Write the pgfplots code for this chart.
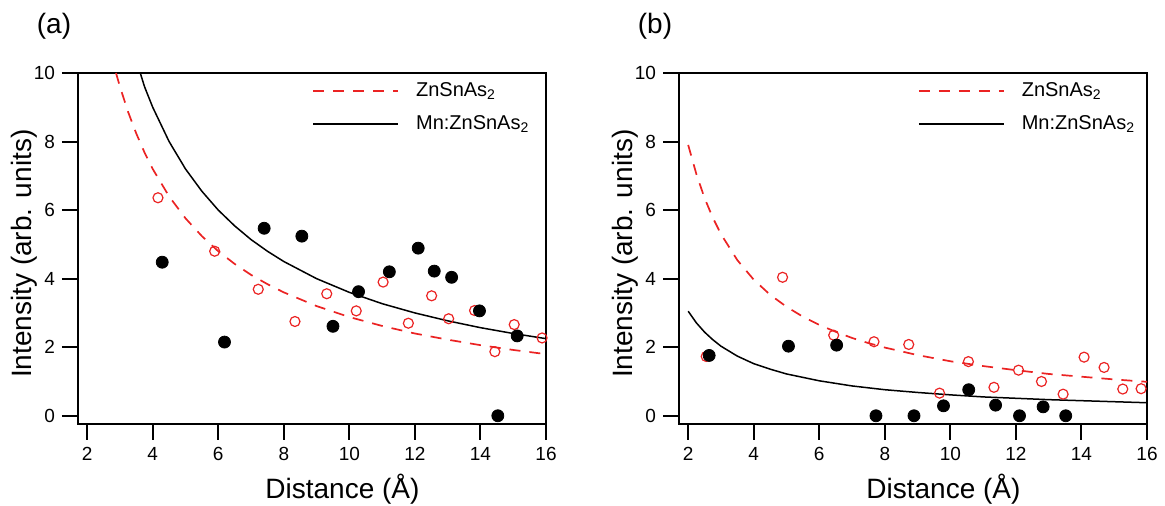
\documentclass[border=0pt]{standalone}
\usepackage{pgfplots}
\pgfplotsset{compat=1.18}
\usepackage{fontspec}
\setmainfont{Liberation Sans}
\definecolor{igred}{RGB}{235,35,35}

\pgfplotsset{
  panel/.style={
    scale only axis, width=234pt, height=175.5pt,
    xmin=1.72, xmax=16, ymin=-0.24, ymax=10,
    xtick={2,4,...,16}, ytick={0,2,...,10},
    tick pos=left, tick align=outside,
    major tick length=8pt,
    tick style={line width=1pt, black},
    axis line style={line width=1pt},
    ticklabel style={font=\fontsize{9.5}{11}\selectfont},
    /pgf/number format/assume math mode=true,
    xlabel={Distance (Å)}, ylabel={Intensity (arb. units)},
    label style={font=\fontsize{14}{16}\selectfont},
    xlabel style={at={(axis description cs:0.565,-0.2117)}, anchor=base},
    ylabel style={at={(axis description cs:-0.0996,0.485)}, anchor=base},
    clip mode=individual,
    legend style={at={(axis description cs:0.5,0.985)}, anchor=north west,
      draw=none, fill=none, inner sep=0pt,
      font=\fontsize{10}{12}\selectfont, row sep=4pt,
      nodes={inner sep=2pt}},
    legend cell align=left,
    legend image code/.code={\draw[#1] (0pt,0pt) -- (42.5pt,0pt); \path (49pt,0pt);},
  },
  fitA/.style={igred, line width=0.85pt, dash pattern=on 5.5pt off 4.5pt},
  fitB/.style={black, line width=0.75pt},
  ptA/.style={only marks, mark=o, mark size=2.5pt, igred, mark options={line width=0.6pt}},
  ptB/.style={only marks, mark=*, mark size=3pt, black},
}

\begin{document}
\begin{tikzpicture}
\path[use as bounding box] (-39pt,-41pt) rectangle (543.5pt,212pt);

% (a)
\begin{axis}[panel, at={(0pt,0pt)}, anchor=south west]
\addplot[fitA] coordinates {
  (2.88,10.00) (3.0,9.60) (3.25,8.86) (3.5,8.23) (3.75,7.68) (4.0,7.20)
  (4.5,6.40) (5.0,5.76) (5.5,5.24) (6.0,4.80) (6.5,4.43) (7.0,4.11)
  (7.5,3.84) (8.0,3.60) (9.0,3.20) (10.0,2.88) (11.0,2.62) (12.0,2.40)
  (13.0,2.22) (14.0,2.06) (15.0,1.92) (15.9,1.81)
};
\addlegendentry{ZnSnAs\textsubscript{2}}
\addplot[fitB] coordinates {
  (3.62,10.0) (3.75,9.6) (4.0,9.0) (4.5,8.0) (5.0,7.2) (5.5,6.55)
  (6.0,6.0) (6.5,5.54) (7.0,5.14) (7.5,4.8) (8.0,4.5) (9.0,4.0)
  (10.0,3.6) (11.0,3.27) (12.0,3.0) (13.0,2.77) (14.0,2.57) (15.0,2.4)
  (16.0,2.25)
};
\addlegendentry{Mn:ZnSnAs\textsubscript{2}}
\addplot[ptA, forget plot] coordinates {
  (4.16,6.36) (5.89,4.80) (7.22,3.69) (8.34,2.75) (9.31,3.56) (10.21,3.06)
  (11.03,3.90) (11.80,2.70) (12.51,3.50) (13.03,2.83) (13.82,3.07)
  (14.44,1.87) (15.03,2.66) (15.88,2.27)
};
\addplot[ptB, forget plot] coordinates {
  (4.29,4.48) (6.19,2.15) (7.40,5.47) (8.55,5.24) (9.50,2.61) (10.28,3.62)
  (11.22,4.20) (12.10,4.89) (12.59,4.22) (13.12,4.04) (13.97,3.06)
  (14.53,0.00) (15.12,2.33)
};
\node[font=\fontsize{14}{16}\selectfont] at (axis description cs:-0.0513,1.134) {(a)};
\end{axis}

% (b)
\begin{axis}[panel, at={(300.5pt,0pt)}, anchor=south west,
  legend style={at={(axis description cs:0.51,0.985)}}]
\addplot[fitA] coordinates {
  (2.0,7.90) (2.25,7.05) (2.5,6.35) (2.75,5.78) (3.0,5.30) (3.5,4.54)
  (4.0,3.97) (4.5,3.53) (5.0,3.18) (5.5,2.89) (6.0,2.65) (6.5,2.45)
  (7.0,2.27) (7.5,2.12) (8.0,1.99) (9.0,1.77) (10.0,1.59) (11.0,1.45)
  (12.0,1.33) (13.0,1.22) (14.0,1.14) (15.0,1.06) (16.0,0.99)
};
\addlegendentry{ZnSnAs\textsubscript{2}}
\addplot[fitB] coordinates {
  (2.0,3.05) (2.25,2.71) (2.5,2.44) (2.75,2.22) (3.0,2.03) (3.5,1.74)
  (4.0,1.52) (4.5,1.36) (5.0,1.22) (6.0,1.02) (7.0,0.87) (8.0,0.76)
  (9.0,0.68) (10.0,0.61) (11.0,0.55) (12.0,0.51) (13.0,0.47) (14.0,0.44)
  (15.0,0.41) (16.0,0.38)
};
\addlegendentry{Mn:ZnSnAs\textsubscript{2}}
\addplot[ptA, forget plot] coordinates {
  (2.55,1.73) (4.88,4.04) (6.44,2.35) (7.67,2.16) (8.73,2.08) (9.67,0.66)
  (10.55,1.58) (11.33,0.83) (12.08,1.33) (12.78,1.00) (13.44,0.63)
  (14.08,1.71) (14.69,1.41) (15.26,0.78) (15.82,0.79)
};
\addplot[ptB, forget plot] coordinates {
  (2.64,1.76) (5.06,2.03) (6.53,2.06) (7.73,0.00) (8.89,0.00) (9.79,0.29)
  (10.56,0.76) (11.38,0.31) (12.11,0.00) (12.83,0.26) (13.52,0.00)
};
\node[font=\fontsize{14}{16}\selectfont] at (axis description cs:-0.0513,1.134) {(b)};
\end{axis}
\end{tikzpicture}
\end{document}
